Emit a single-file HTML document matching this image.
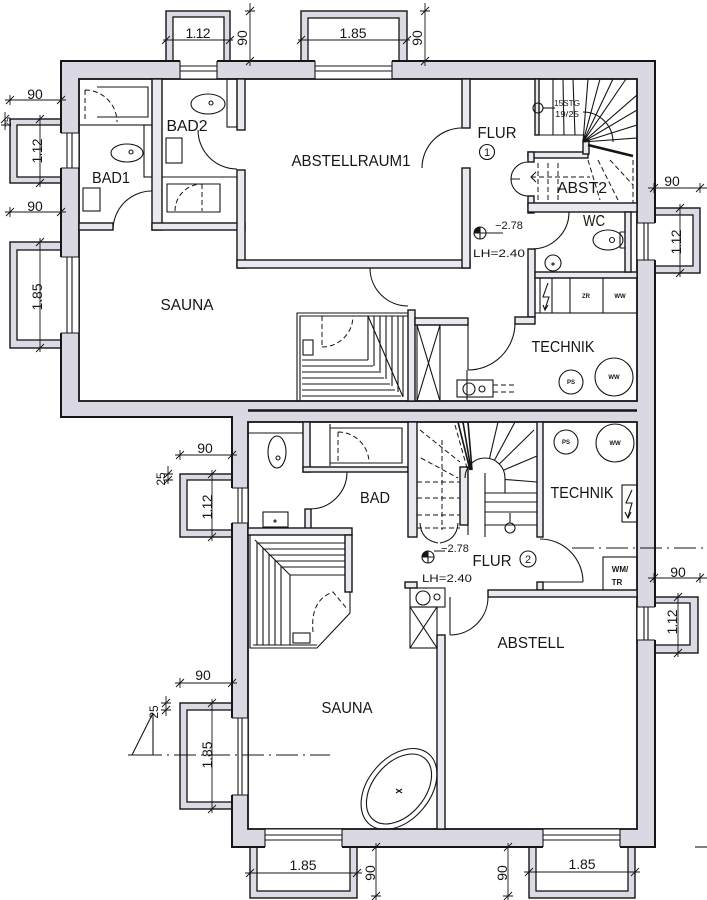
<!DOCTYPE html>
<html><head><meta charset="utf-8">
<style>
html,body{margin:0;padding:0;background:#fff;width:707px;height:900px;overflow:hidden}
svg{display:block}
text{font-family:"Liberation Sans",Arial,sans-serif;fill:#161616}
</style></head><body>
<svg width="707" height="900" viewBox="0 0 707 900" xmlns="http://www.w3.org/2000/svg">
<defs>
<clipPath id="lowroom" clipPathUnits="userSpaceOnUse"><rect x="249" y="640" width="188" height="189"/></clipPath>
</defs>

<!-- light well boxes -->
<g fill="#dcdae4" stroke="#151515" stroke-width="1.4">
<rect x="166" y="11" width="64" height="50"/>
<rect x="301" y="11" width="106" height="50"/>
<rect x="10" y="119" width="51" height="64"/>
<rect x="10" y="242" width="51" height="106"/>
<rect x="654" y="208" width="46" height="65"/>
<rect x="180" y="474" width="52" height="63"/>
<rect x="654" y="597" width="44" height="56"/>
<rect x="180" y="703" width="52" height="106"/>
<rect x="250" y="847" width="107" height="51"/>
<rect x="529" y="847" width="106" height="51"/>
</g>
<g fill="#fff" stroke="#151515" stroke-width="1.3">
<rect x="173" y="17" width="51" height="44"/>
<rect x="308" y="18" width="91" height="43"/>
<rect x="17" y="125" width="44" height="52"/>
<rect x="17" y="250" width="44" height="90"/>
<rect x="654" y="215" width="39" height="51"/>
<rect x="187" y="480" width="45" height="50"/>
<rect x="654" y="603" width="36" height="42"/>
<rect x="187" y="710" width="45" height="92"/>
<rect x="257" y="847" width="93" height="44"/>
<rect x="536" y="847" width="92" height="44"/>
</g>

<!-- outer walls -->
<path d="M61 61 H655 V847 H232 V417 H61 Z" fill="#dad8e3" stroke="#151515" stroke-width="2"/>
<rect x="79" y="79" width="558" height="322" fill="#fff" stroke="#151515" stroke-width="1.8"/>
<rect x="248" y="422" width="389" height="407" fill="#fff" stroke="#151515" stroke-width="1.8"/>
<path d="M248 410.5 H637" stroke="#151515" stroke-width="2.5"/>

<!-- windows -->
<g fill="#fff" stroke="none">
<rect x="180" y="60" width="37" height="19"/>
<rect x="315" y="60" width="77" height="19"/>
<rect x="265" y="829" width="77" height="19"/>
<rect x="543" y="829" width="77" height="19"/>
<rect x="60" y="133" width="19" height="35"/>
<rect x="60" y="257" width="19" height="76"/>
<rect x="637" y="223" width="19" height="37"/>
<rect x="637" y="607" width="19" height="33"/>
<rect x="231" y="488" width="17" height="35"/>
<rect x="231" y="718" width="17" height="77"/>
</g>
<g fill="none" stroke="#151515" stroke-width="1.1">
<path d="M180 61 V79 M217 61 V79 M180 66 H217 M180 71 H217 M180 79 H217"/>
<path d="M315 61 V79 M392 61 V79 M315 66 H392 M315 71 H392 M315 79 H392"/>
<path d="M265 829 V847 M342 829 V847 M265 829 H342 M265 835 H342 M265 840 H342"/>
<path d="M543 829 V847 M620 829 V847 M543 829 H620 M543 835 H620 M543 840 H620"/>
<path d="M61 133 H79 M61 168 H79 M67 133 V168 M72 133 V168 M79 133 V168"/>
<path d="M61 257 H79 M61 333 H79 M67 257 V333 M72 257 V333 M79 257 V333"/>
<path d="M637 223 H655 M637 260 H655 M637 223 V260 M644 223 V260 M648 223 V260"/>
<path d="M637 607 H655 M637 640 H655 M637 607 V640 M644 607 V640 M648 607 V640"/>
<path d="M232 488 H248 M232 523 H248 M238 488 V523 M242 488 V523 M248 488 V523"/>
<path d="M232 718 H248 M232 795 H248 M238 718 V795 M242 718 V795 M248 718 V795"/>
</g>

<!-- interior walls -->
<g fill="#ebe9f0" stroke="#151515" stroke-width="1.4">
<rect x="152" y="79" width="10" height="151"/>
<rect x="79" y="223" width="34" height="7"/>
<rect x="152" y="223" width="93" height="7"/>
<rect x="237" y="79" width="8" height="51"/>
<rect x="237" y="170" width="8" height="98"/>
<rect x="237" y="260" width="233" height="8"/>
<rect x="462" y="79" width="8" height="49"/>
<rect x="462" y="168" width="8" height="100"/>
<rect x="408" y="310" width="7" height="91"/>
<rect x="415" y="318" width="53" height="7"/>
<rect x="528" y="152" width="60" height="6"/>
<rect x="583" y="140" width="6" height="14"/>
<rect x="528" y="152" width="6" height="10"/>
<rect x="528" y="196" width="6" height="17"/>
<rect x="528" y="203" width="109" height="9"/>
<rect x="528" y="249" width="7" height="68"/>
<rect x="515" y="317" width="20" height="7"/>
<rect x="535" y="272" width="102" height="6"/>
<rect x="625" y="212" width="6" height="60"/>
<rect x="535" y="79" width="4" height="56"/>
<!-- lower -->
<rect x="303" y="422" width="7" height="50"/>
<rect x="303" y="467" width="105" height="5"/>
<rect x="305" y="509" width="6" height="20"/>
<rect x="408" y="422" width="9" height="115"/>
<rect x="248" y="528" width="104" height="7"/>
<rect x="345" y="535" width="7" height="57"/>
<rect x="460" y="467" width="8" height="58"/>
<rect x="537" y="422" width="6" height="115"/>
<rect x="537" y="582" width="6" height="8"/>
<rect x="488" y="590" width="149" height="7"/>
<rect x="437" y="635" width="8" height="194"/>
<rect x="405" y="582" width="12" height="6"/>
</g>

<!-- fixtures top -->
<g fill="none" stroke="#151515" stroke-width="1.1">
<rect x="79" y="79" width="73" height="46"/>
<path d="M97 87 H148 V117 H97"/>
<rect x="144" y="125" width="8" height="52"/>
<ellipse cx="127" cy="153" rx="16" ry="9"/>
<circle cx="131" cy="152" r="2"/>
<rect x="83" y="188" width="17" height="23"/>
<path d="M113 230 A39 39 0 0 1 152 191"/>
<rect x="227" y="79" width="10" height="48"/>
<ellipse cx="208" cy="104" rx="17" ry="10"/>
<circle cx="211" cy="103" r="2"/>
<rect x="166" y="138" width="16" height="25"/>
<path d="M162 177 H237 M167 184 H220 V212 H167 Z"/>
<path d="M198 130 A39 39 0 0 0 237 169"/>
<path d="M462 128 A40 40 0 0 0 422 168"/>
<path d="M370 268 A38 38 0 0 0 408 306"/>
<!-- sauna cabin top -->
<path d="M297 401 V313 H408 M300 401 V316 H408"/>
<rect x="303" y="340" width="10" height="15"/>
<path d="M368 316 L403 397"/>
<path d="M302 360 H368 M302 366 H373 M302 372 H379 M302 378 H384 M302 384 H390 M302 390 H395 M302 396 H401"/>
<path d="M368 316 V360 M374 316 V366 M380 316 V373 M386 316 V379 M392 316 V386 M398 316 V392 M403 316 V397"/>
<!-- shaft -->
<rect x="417" y="325" width="23" height="76"/>
<path d="M417 325 L440 401 M440 325 L417 401"/>
<path d="M467 370 V401 M468 323 V370"/>
<path d="M515 323 A47 47 0 0 1 468 370"/>
<!-- technik top -->
<rect x="535" y="278" width="102" height="35"/>
<path d="M540 278 V313 M552 278 V313 M570 278 V313 M603 278 V313"/>
<path d="M548 283 L543 297 L549 297 L545 309 M543 305 L545 310 L548 305"/>
<circle cx="571" cy="382" r="12"/>
<circle cx="614" cy="377" r="19"/>
<rect x="457" y="380" width="36" height="17"/>
<circle cx="469" cy="389" r="6"/>
<circle cx="482" cy="389" r="3"/>
<!-- WC -->
<path d="M569 212 A37 37 0 0 1 532 249"/>
<ellipse cx="608" cy="240" rx="15" ry="10"/>
<circle cx="612" cy="240" r="2.5"/>
<path d="M620 232 H625 M620 248 H625 M620 232 V248"/>
<circle cx="553" cy="263" r="8"/>
<circle cx="553" cy="264" r="1"/>
<!-- stair top -->
<path d="M539 135 H583"/>
<path d="M553 79 V135 M563 79 L564 135 M573 79 L575 135"/>
<path d="M583 142 L588 79 M583 142 L600 79 M583 142 L613 79 M583 142 L626 79 M583 142 L637 95 M583 142 L637 110 M583 142 L637 125 M583 142 L637 138"/>
<path d="M583 112 A30 30 0 0 1 613 142"/>
<circle cx="538" cy="108" r="5"/>
<path d="M543 108 H555"/>
<!-- ABST2 doors -->
<path d="M528 162 A17 17 0 0 0 511 179 M511 179 A17 17 0 0 0 528 196 M511 179 H520"/>
<path d="M536 172 L531 177 L536 182"/>
</g>
<path d="M588 145 L633 156" stroke="#151515" stroke-width="2.6"/>
<g fill="none" stroke="#151515" stroke-width="1" stroke-dasharray="5 3">
<path d="M85 90 V122 M85 90 A32 32 0 0 1 117 122"/>
<path d="M175 211 A27 27 0 0 1 202 184 M202 184 V211"/>
<path d="M322 316 V347 M322 347 A31 31 0 0 0 353 316"/>
<path d="M538 163 V200 M548 163 V200 M558 163 V200 M588 160 L600 200 M598 160 L618 200 M610 160 L633 185 M633 160 V203 M531 177 H590"/>
<path d="M493 385 H515 M493 392 H515"/>
</g>

<!-- fixtures lower -->
<g fill="none" stroke="#151515" stroke-width="1.1">
<ellipse cx="277" cy="452" rx="9" ry="16"/>
<circle cx="278" cy="458" r="2"/>
<path d="M248 433 H303"/>
<path d="M330 424 V466 M330 428 H402 V463 H330"/>
<path d="M347 472 A37 37 0 0 1 310 509"/>
<rect x="263" y="512" width="25" height="15"/>
<circle cx="275" cy="521" r="1"/>
<path d="M250 535 V648 H317 L350 613 V592"/>
<path d="M255 540 L290 575 H345 M290 575 V645 M253 645 H317"/>
<path d="M258 543 H345 M264 549 H345 M270 555 H345 M276 561 H345 M282 567 H345"/>
<path d="M257 542 V645 M263 548 V645 M269 554 V645 M275 560 V645 M281 566 V645"/>
<rect x="293" y="633" width="17" height="10"/>
<!-- stair lower -->
<path d="M485 473 V537 M468 473 V535"/>
<path d="M485 493 H537 M485 502 H537 M485 512 H537 M485 525 H537"/>
<path d="M489.5 458.5 L498 422 M494.4 460.4 L515 422 M499.3 464 L534 430 M503.4 470.2 L537 456 M505 479.5 L537 482"/>
<path d="M465 478 A20 20 0 0 1 505 478 V493"/>
<circle cx="510" cy="528" r="5"/>
<path d="M510 523 V513"/>
<path d="M420 523 Q421 540 438 543 M458 523 Q457 540 440 543"/>
<path d="M540 539 A43 43 0 0 1 583 582 M537 582 H583"/>
<path d="M488 597 A38 38 0 0 1 450 635 M450 597 V635"/>
<rect x="410" y="588" width="35" height="19"/>
<circle cx="423" cy="598" r="7"/>
<circle cx="437" cy="597" r="3"/>
<rect x="410" y="607" width="27" height="41"/>
<path d="M410 607 L437 648 M437 607 L410 648"/>
<circle cx="566" cy="442" r="12"/>
<circle cx="615" cy="443" r="19"/>
<rect x="622" y="485" width="15" height="37"/>
<path d="M632 490 L626 503 L632 503 L628 517 M625 512 L628 518 L631 512"/>
<rect x="603" y="557" width="34" height="33"/>
<g clip-path="url(#lowroom)">
<g transform="translate(399,789) rotate(-50)">
<ellipse cx="0" cy="0" rx="46" ry="31"/>
<ellipse cx="0" cy="0" rx="40" ry="26"/>
</g>
</g>
<path d="M396 789 L402 793 M396 793 L402 789"/>
<path d="M132 755 L153 713 V755 M128 755 H162"/>
<path d="M695 847 H707"/>
</g>
<path d="M458 422 L470 470 M463 422 L471 470 M468 422 L472 470" stroke="#151515" stroke-width="1.6" fill="none"/>
<g fill="none" stroke="#151515" stroke-width="1" stroke-dasharray="5 3">
<path d="M338 432 V463 M338 432 A31 31 0 0 1 369 463"/>
<path d="M313 632 Q310 600 333 592 L348 610"/>
<path d="M420 430 L460 462 M421 458 L458 478 M417 482 H460 M417 498 H460 M417 515 H460 M417 528 H460 M442 440 V530 M455 425 L467 468"/>
</g>
<g fill="none" stroke="#151515" stroke-width="1" stroke-dasharray="22 5 2 5">
<path d="M140 755 H330"/>
<path d="M572 548 H707"/>
</g>

<!-- level symbols -->
<g fill="none" stroke="#151515" stroke-width="1.1">
<circle cx="480" cy="233" r="6"/>
<path d="M480 227 V239 M474 233 H503"/>
<circle cx="428" cy="557" r="6"/>
<path d="M428 551 V563 M422 557 H434 M434 551 H445"/>
<circle cx="487" cy="152" r="7.5"/>
<circle cx="528" cy="559" r="8"/>
</g>
<path d="M480 227 A6 6 0 0 0 474 233 H480 Z M428 551 A6 6 0 0 0 422 557 H428 Z" fill="#151515"/>

<!-- dimension lines -->
<g fill="none" stroke="#151515" stroke-width="0.9">
<path d="M163 40 H233 M162 44 L170 36 M166 35 V45 M226 44 L234 36 M230 35 V45"/>
<path d="M250 3 V66 M246 15 L254 7 M245 11 H255 M246 65 L254 57 M245 61 H255"/>
<path d="M298 40 H410 M297 44 L305 36 M301 35 V45 M403 44 L411 36 M407 35 V45"/>
<path d="M425 3 V66 M421 15 L429 7 M420 11 H430 M421 65 L429 57 M420 61 H430"/>
<path d="M5 100 H66 M6 104 L14 96 M10 95 V105 M57 104 L65 96 M61 95 V105"/>
<path d="M40 115 V187 M36 123 L44 115 M35 119 H45 M36 187 L44 179 M35 183 H45"/>
<path d="M5 112 V130 M1 123 L9 115 M1 125 H9"/>
<path d="M5 212 H66 M6 216 L14 208 M10 207 V217 M57 216 L65 208 M61 207 V217"/>
<path d="M40 238 V352 M36 246 L44 238 M35 242 H45 M36 352 L44 344 M35 348 H45"/>
<path d="M648 188 H707 M650 192 L658 184 M654 183 V193 M696 192 L704 184 M700 183 V193"/>
<path d="M680 204 V277 M676 212 L684 204 M675 208 H685 M676 277 L684 269 M675 273 H685"/>
<path d="M175 455 H237 M176 459 L184 451 M180 450 V460 M228 459 L236 451 M232 450 V460"/>
<path d="M168 466 V484 M164 478 L172 470 M163 474 H173 M164 484 L172 476 M163 480 H173"/>
<path d="M212 470 V541 M208 478 L216 470 M207 474 H217 M208 541 L216 533 M207 537 H217"/>
<path d="M648 578 H707 M650 582 L658 574 M654 573 V583 M696 582 L704 574 M700 573 V583"/>
<path d="M678 593 V657 M674 601 L682 593 M673 597 H683 M674 657 L682 649 M673 653 H683"/>
<path d="M175 683 H237 M176 687 L184 679 M180 678 V688 M228 687 L236 679 M232 678 V688"/>
<path d="M166 696 V716 M162 707 L170 699 M161 703 H171 M162 714 L170 706 M161 710 H171"/>
<path d="M212 699 V813 M208 707 L216 699 M207 703 H217 M208 813 L216 805 M207 809 H217"/>
<path d="M245 873 H362 M246 877 L254 869 M250 868 V878 M353 877 L361 869 M357 868 V878"/>
<path d="M376 843 V900 M372 851 L380 843 M371 847 H381 M372 900 L380 892 M371 896 H381"/>
<path d="M524 872 H640 M525 876 L533 868 M529 867 V877 M631 876 L639 868 M635 867 V877"/>
<path d="M508 843 V900 M504 851 L512 843 M503 847 H513 M504 900 L512 892 M503 896 H513"/>
</g>

<!-- dimension text -->
<g font-size="14" text-anchor="middle">
<text x="198" y="38" textLength="25">1.12</text>
<text x="353" y="38" textLength="27">1.85</text>
<text transform="translate(247,38) rotate(-90)">90</text>
<text transform="translate(422,38) rotate(-90)">90</text>
<text x="35" y="99">90</text>
<text transform="translate(42,151) rotate(-90)" textLength="25">1.12</text>
<text x="35" y="211">90</text>
<text transform="translate(42,297) rotate(-90)" textLength="27">1.85</text>
<text x="672" y="186">90</text>
<text transform="translate(681,242) rotate(-90)" textLength="25">1.12</text>
<text x="205" y="453">90</text>
<text transform="translate(212,507) rotate(-90)" textLength="25">1.12</text>
<text x="678" y="577">90</text>
<text transform="translate(677,622) rotate(-90)" textLength="25">1.12</text>
<text x="203" y="680">90</text>
<text transform="translate(212,755) rotate(-90)" textLength="27">1.85</text>
<text x="303" y="870" textLength="27">1.85</text>
<text x="582" y="869" textLength="27">1.85</text>
<text transform="translate(375,873) rotate(-90)">90</text>
<text transform="translate(507,873) rotate(-90)">90</text>
</g>
<g font-size="12" text-anchor="middle">
<text transform="translate(165,479) rotate(-90)">25</text>
<text transform="translate(158,712) rotate(-90)">25</text>
<text transform="translate(11,122) rotate(-90)" font-size="9">25</text>
</g>

<!-- room labels -->
<g font-size="16" text-anchor="middle">
<text x="351" y="166" textLength="119" lengthAdjust="spacingAndGlyphs">ABSTELLRAUM1</text>
<text x="187" y="310" textLength="53" lengthAdjust="spacingAndGlyphs">SAUNA</text>
<text x="563" y="352" textLength="63" lengthAdjust="spacingAndGlyphs">TECHNIK</text>
<text x="497" y="138" textLength="39" lengthAdjust="spacingAndGlyphs">FLUR</text>
<text x="187" y="131" textLength="41" lengthAdjust="spacingAndGlyphs">BAD2</text>
<text x="111" y="183" textLength="38" lengthAdjust="spacingAndGlyphs">BAD1</text>
<text x="582" y="193" textLength="50" lengthAdjust="spacingAndGlyphs">ABST2</text>
<text x="594" y="226" textLength="22" lengthAdjust="spacingAndGlyphs">WC</text>
<text x="375" y="503" textLength="30" lengthAdjust="spacingAndGlyphs">BAD</text>
<text x="582" y="498" textLength="63" lengthAdjust="spacingAndGlyphs">TECHNIK</text>
<text x="492" y="566" textLength="39" lengthAdjust="spacingAndGlyphs">FLUR</text>
<text x="531" y="648" textLength="67" lengthAdjust="spacingAndGlyphs">ABSTELL</text>
<text x="347" y="713" textLength="51" lengthAdjust="spacingAndGlyphs">SAUNA</text>
</g>
<g font-size="11" text-anchor="middle">
<text x="487" y="156">1</text>
<text x="528" y="563">2</text>
<text x="509" y="229">−2.78</text>
<text x="499" y="257" textLength="52" lengthAdjust="spacingAndGlyphs">LH=2.40</text>
<text x="455" y="552">−2.78</text>
<text x="447" y="582" textLength="50" lengthAdjust="spacingAndGlyphs">LH=2.40</text>
</g>
<g font-size="8" text-anchor="middle">
<text x="567" y="106" textLength="26" lengthAdjust="spacingAndGlyphs">15STG</text>
<text x="567" y="117" textLength="24" lengthAdjust="spacingAndGlyphs">19/25</text>
</g>
<g font-size="6" text-anchor="middle" font-weight="bold">
<text x="586" y="298">ZR</text>
<text x="620" y="298">WW</text>
<text x="571" y="384">PS</text>
<text x="614" y="379">WW</text>
<text x="566" y="444">PS</text>
<text x="615" y="445">WW</text>
</g>
<g font-size="8" font-weight="bold" text-anchor="middle">
<text x="620" y="572">WM/</text>
<text x="617" y="585">TR</text>
</g>
</svg>
</body></html>
